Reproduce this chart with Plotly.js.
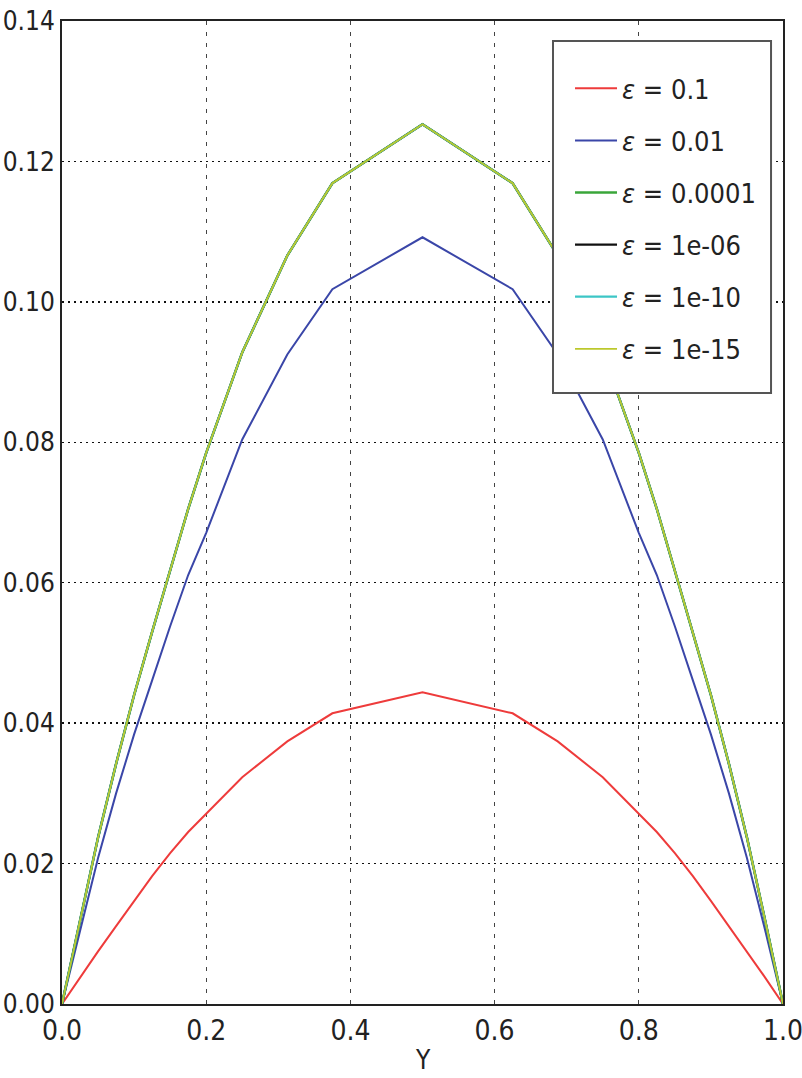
<!DOCTYPE html>
<html>
<head>
<meta charset="utf-8">
<script src="https://cdn.plot.ly/plotly-3.0.1.min.js"></script>
<style>html,body{margin:0;padding:0;background:#fff;}#chart{width:802px;height:1078px;}</style>
</head>
<body>
<div id="chart"></div>
<script>
// Node positions along Y
const yNodes = [0, 0.025, 0.05, 0.075, 0.1, 0.125, 0.15, 0.175, 0.2, 0.25, 0.3125, 0.375, 0.5,
                0.625, 0.6875, 0.75, 0.8, 0.825, 0.85, 0.875, 0.9, 0.925, 0.95, 0.975, 1.0];
// Solution values
const eps_0_1 = [0, 0.0038, 0.0075, 0.0111, 0.0147, 0.0182, 0.0215, 0.0245, 0.0271, 0.0323, 0.0374, 0.0414, 0.0444,
                 0.0414, 0.0374, 0.0323, 0.0271, 0.0245, 0.0215, 0.0182, 0.0147, 0.0111, 0.0075, 0.0038, 0];
const eps_0_01 = [0, 0.0106, 0.0208, 0.0300, 0.0384, 0.0461, 0.0538, 0.0611, 0.0671, 0.0804, 0.0925, 0.1018, 0.1092,
                  0.1018, 0.0925, 0.0804, 0.0671, 0.0611, 0.0538, 0.0461, 0.0384, 0.0300, 0.0208, 0.0106, 0];
const eps_1e_4 = [0, 0.0120, 0.0237, 0.0342, 0.0440, 0.0530, 0.0617, 0.0705, 0.0785, 0.0928, 0.1066, 0.1169, 0.1253,
                  0.1169, 0.1066, 0.0928, 0.0785, 0.0705, 0.0617, 0.0530, 0.0440, 0.0342, 0.0237, 0.0120, 0];
const eps_1e_6 = [0, 0.0120, 0.0237, 0.0342, 0.0440, 0.0530, 0.0617, 0.0705, 0.0785, 0.0928, 0.1066, 0.1169, 0.1253,
                  0.1169, 0.1066, 0.0928, 0.0785, 0.0705, 0.0617, 0.0530, 0.0440, 0.0342, 0.0237, 0.0120, 0];
const eps_1e_10 = [0, 0.0120, 0.0237, 0.0342, 0.0440, 0.0530, 0.0617, 0.0705, 0.0785, 0.0928, 0.1066, 0.1169, 0.1253,
                   0.1169, 0.1066, 0.0928, 0.0785, 0.0705, 0.0617, 0.0530, 0.0440, 0.0342, 0.0237, 0.0120, 0];
const eps_1e_15 = [0, 0.0120, 0.0237, 0.0342, 0.0440, 0.0530, 0.0617, 0.0705, 0.0785, 0.0928, 0.1066, 0.1169, 0.1253,
                   0.1169, 0.1066, 0.0928, 0.0785, 0.0705, 0.0617, 0.0530, 0.0440, 0.0342, 0.0237, 0.0120, 0];

const seriesNames = ['0.1', '0.01', '0.0001', '1e-06', '1e-10', '1e-15'];
const seriesValues = [eps_0_1, eps_0_01, eps_1e_4, eps_1e_6, eps_1e_10, eps_1e_15];
const seriesColors = ['#ee3b3b', '#3a46a8', '#3aa63a', '#111111', '#3cc6c6', '#bcc82c'];
const seriesWidths = [2, 2, 2.6, 2.2, 2.2, 1.8];

const xTickVals = [0, 0.2, 0.4, 0.6, 0.8, 1.0];
const xTickText = ['0.0', '0.2', '0.4', '0.6', '0.8', '1.0'];
const yTickVals = [0, 0.02, 0.04, 0.06, 0.08, 0.10, 0.12, 0.14];
const yTickText = ['0.00', '0.02', '0.04', '0.06', '0.08', '0.10', '0.12', '0.14'];
const xAxisLabel = 'Y';

const FONT = '"Liberation Sans Narrow", "DejaVu Sans Condensed", "Liberation Sans", sans-serif';

const traces = seriesNames.map((n, i) => ({
  x: yNodes,
  y: seriesValues[i],
  type: 'scatter',
  mode: 'lines',
  name: '<i>ε</i> = ' + n,
  legendgroup: 'g' + i,
  line: {color: seriesColors[i], width: seriesWidths[i]}
}));

const layout = {
  width: 802,
  height: 1078,
  margin: {l: 62, r: 19, t: 21, b: 74},
  paper_bgcolor: '#ffffff',
  plot_bgcolor: '#ffffff',
  showlegend: true,
  legend: {
    x: 0.7046, y: 0.956, xanchor: 'left', yanchor: 'top',
    bgcolor: 'rgba(0,0,0,0)',
    borderwidth: 0,
    font: {family: FONT, size: 27, color: '#222222'},
    tracegroupgap: 14,
    traceorder: 'grouped',
    itemwidth: 42
  },
  shapes: [{
    type: 'rect', xref: 'paper', yref: 'paper',
    x0: 0.681, x1: 0.9834, y0: 0.6216, y1: 0.9797,
    fillcolor: '#ffffff',
    line: {color: '#555555', width: 2},
    layer: 'above'
  }],
  annotations: [{
    text: xAxisLabel, xref: 'paper', yref: 'paper',
    x: 0.5, y: -0.0572, xanchor: 'center', yanchor: 'middle',
    showarrow: false,
    font: {family: FONT, size: 26, color: '#222222'}
  }],
  xaxis: {
    range: [0, 1],
    tickvals: xTickVals,
    ticktext: xTickText,
    ticks: '',
    ticklabeloverflow: 'allow',
    showgrid: true,
    gridcolor: '#444444',
    griddash: '4px,7px',
    gridwidth: 1,
    zeroline: false,
    showline: true,
    mirror: true,
    linecolor: '#222222',
    linewidth: 2,
    automargin: false,
    tickfont: {family: FONT, size: 28, color: '#222222'}
  },
  yaxis: {
    range: [0, 0.14],
    tickvals: yTickVals,
    ticktext: yTickText,
    ticks: '',
    ticklabeloverflow: 'allow',
    showgrid: true,
    gridcolor: '#111111',
    griddash: '2px,4px',
    gridwidth: 1.5,
    zeroline: false,
    showline: true,
    mirror: true,
    linecolor: '#222222',
    linewidth: 2,
    automargin: false,
    tickfont: {family: FONT, size: 26, color: '#222222'}
  }
};

Plotly.newPlot('chart', traces, layout, {displayModeBar: false, staticPlot: true});
</script>
</body>
</html>
